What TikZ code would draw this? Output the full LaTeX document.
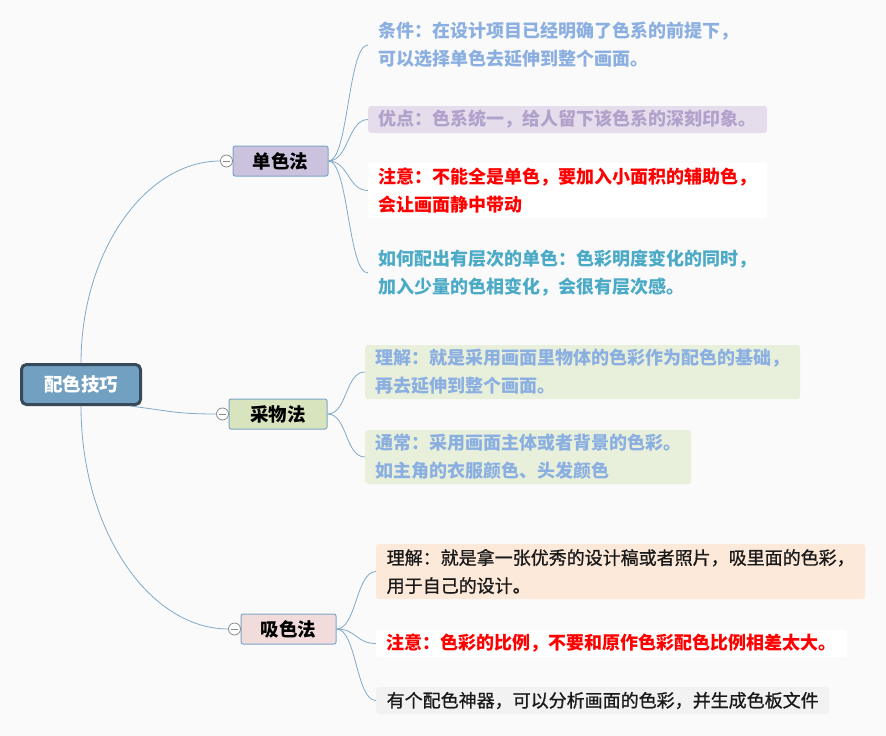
\documentclass[tikz,border=0pt]{standalone}
\usepackage{fontspec}
\newfontfamily\cjk{Noto Sans CJK SC}
\newfontfamily\cjkmid[FakeBold=1]{Noto Sans CJK SC}
\usetikzlibrary{positioning}
\definecolor{bgcol}{HTML}{FAFAFA}
\definecolor{rootfill}{HTML}{72A0C1}
\definecolor{rootline}{HTML}{38495A}
\definecolor{branchline}{HTML}{7EA6C8}
\definecolor{linkcol}{HTML}{80A9CA}
\definecolor{foldline}{HTML}{8A8A8A}
\definecolor{danfill}{HTML}{CBC3DD}
\definecolor{caifill}{HTML}{D8E4BD}
\definecolor{xifill}{HTML}{F2DCDB}
\definecolor{bluetxt}{HTML}{8BAFE0}
\definecolor{lavtxt}{HTML}{B2A2CB}
\definecolor{lavbox}{HTML}{E5DDEC}
\definecolor{tealtxt}{HTML}{4BAAC6}
\definecolor{greenbox}{HTML}{E8F0DC}
\definecolor{peachbox}{HTML}{FDE9DA}
\definecolor{graybox}{HTML}{F2F2F2}
\definecolor{darktxt}{HTML}{1A1A1A}
\tikzset{x=1pt, y=-1pt, font=\cjk\fontsize{18}{28}\selectfont}
\tikzstyle{root} = [draw=rootline, line width=3pt, fill=rootfill, rounded corners=5pt, minimum width=119pt, minimum height=40pt, text=white, font=\cjk\bfseries\fontsize{18.5}{20}\selectfont]
\tikzstyle{branch} = [draw=branchline, line width=1pt, rounded corners=2pt, minimum width=95pt, minimum height=30pt, inner sep=0pt, font=\cjk\bfseries\fontsize{18.5}{20}\selectfont]
\tikzstyle{fold} = [circle, draw=foldline, fill=white, line width=.8pt, minimum size=12pt, inner sep=0pt, outer sep=0pt,
  path picture={\draw [foldline, line width=.8pt] ([xshift=2.5pt]path picture bounding box.west) -- ([xshift=-2.5pt]path picture bounding box.east);}]
\tikzstyle{leaf} = [anchor=west, align=left, inner xsep=10.5pt, inner ysep=0pt, rounded corners=3pt, font=\cjk\bfseries\fontsize{18}{28}\selectfont]
\tikzstyle{plain} = [font=\cjkmid\fontsize{18}{28}\selectfont, text=darktxt]
\tikzstyle{link} = [draw=linkcol, line width=.8pt]

\begin{document}
\begin{tikzpicture}
    \fill [bgcol] (0,0) rectangle (886,736);

    \node [root] (root) at (81,384.5) {配色技巧};
    \node [branch, fill=danfill] (dan) at (280.5,161) {单色法};
    \node [branch, fill=caifill, minimum width=98pt] (cai) at (278,414) {采物法};
    \node [branch, fill=xifill] (xi) at (288.5,629) {吸色法};
    \node [fold, left=0pt of dan] (dan_f) {};
    \node [fold, left=0pt of cai] (cai_f) {};
    \node [fold, left=0pt of xi] (xi_f) {};

    % 单色法
    \node [leaf, text=bluetxt] (dan_a) at (368,45) {条件：在设计项目已经明确了色系的前提下，\\可以选择单色去延伸到整个画面。};
    \node [leaf, fill=lavbox, text=lavtxt, text width=378pt, minimum height=27pt] (dan_b) at (368,119.5) {优点：色系统一，给人留下该色系的深刻印象。};
    \node [leaf, fill=white, text=red, text width=378pt, minimum height=55pt] (dan_c) at (368,190.5) {注意：不能全是单色，要加入小面积的辅助色，\\会让画面静中带动};
    \node [leaf, text=tealtxt] (dan_d) at (368,273) {如何配出有层次的单色：色彩明度变化的同时，\\加入少量的色相变化，会很有层次感。};

    % 采物法
    \node [leaf, fill=greenbox, text=bluetxt, text width=414pt, minimum height=54pt] (cai_a) at (365,372) {理解：就是采用画面里物体的色彩作为配色的基础，\\再去延伸到整个画面。};
    \node [leaf, fill=greenbox, text=bluetxt, text width=305pt, minimum height=54pt] (cai_b) at (365,457) {通常：采用画面主体或者背景的色彩。\\如主角的衣服颜色、头发颜色};

    % 吸色法
    \node [leaf, plain, fill=peachbox, text width=468pt, minimum height=55pt] (xi_a) at (376,571.5) {理解：就是拿一张优秀的设计稿或者照片，吸里面的色彩，\\用于自己的设计。};
    \node [leaf, fill=white, text=red, text width=450pt, minimum height=27pt] (xi_b) at (376,643.5) {注意：色彩的比例，不要和原作色彩配色比例相差太大。};
    \node [leaf, plain, fill=graybox, text width=432pt, minimum height=27pt] (xi_c) at (376,700.5) {有个配色神器，可以分析画面的色彩，并生成色板文件};

    \draw [link] (root.north) .. controls +(0,-110) and +(-76,0) .. (dan_f.west);
    \draw [link] ([xshift=-12pt]root.south east) .. controls +(40,5) and +(-40,0) .. (cai_f.west);
    \draw [link] (root.south) .. controls +(0,123) and +(-80,0) .. (xi_f.west);
    \foreach \t in {dan_a,dan_b,dan_c,dan_d}
        \draw [link] (dan.east) .. controls +(20,0) and +(-20,0) .. (\t.west);
    \foreach \t in {cai_a,cai_b}
        \draw [link] (cai.east) .. controls +(20,0) and +(-20,0) .. (\t.west);
    \foreach \t in {xi_a,xi_b,xi_c}
        \draw [link] (xi.east) .. controls +(20,0) and +(-20,0) .. (\t.west);
\end{tikzpicture}
\end{document}
